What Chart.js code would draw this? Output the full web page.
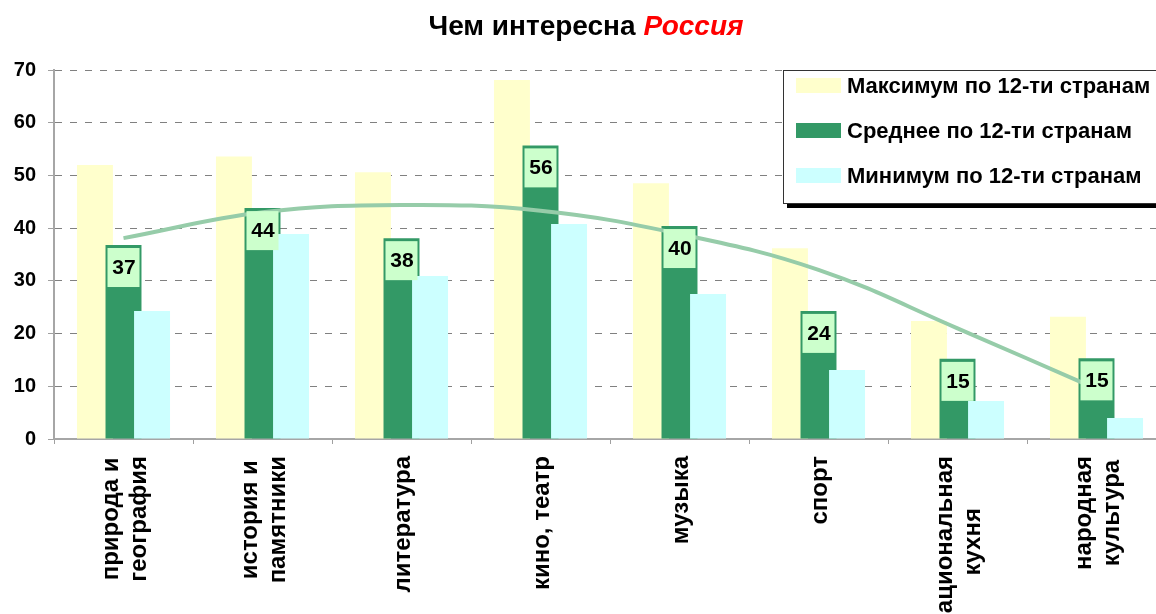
<!DOCTYPE html>
<html>
<head>
<meta charset="utf-8">
<script src="https://cdn.jsdelivr.net/npm/chart.js@4/dist/chart.umd.min.js"></script>
<style>
    html, body { margin: 0; padding: 0; background: #fff; overflow: hidden; }
    #wrap { position: relative; width: 1156px; height: 614px; overflow: hidden; font-family: Arial, 'Liberation Sans', sans-serif; }
    #chart { position: absolute; left: 0; top: 0; }
    #title { position: absolute; left: 0; top: 11px; width: 1172px; text-align: center; font-size: 28px; font-weight: bold; line-height: 30px; color: #000; }
    #title span { color: #ff0000; font-style: italic; }
    #legend { position: absolute; left: 783px; top: 70px; width: 420px; height: 132px; border: 1px solid #333; background: #fff; box-shadow: 4px 4px 0 #000; }
    .row { position: absolute; left: 0; height: 24px; font-size: 22px; font-weight: bold; line-height: 24px; white-space: nowrap; color: #000; }
    .sw { position: absolute; left: 12px; top: 4px; width: 45px; height: 15px; }
    .tx { position: absolute; left: 63px; top: 0; }
</style>
</head>
<body>
<div id="wrap">
    <canvas id="chart" width="1166" height="614"></canvas>
    <div id="title">Чем интересна <span>Россия</span></div>
    <div id="legend"></div>
</div>
<script>
// Categories (two-line labels as arrays)
const categories = [
    ['природа и', 'география'],
    ['история и', 'памятники'],
    ['литература'],
    ['кино, театр'],
    ['музыка'],
    ['спорт'],
    ['национальная', 'кухня'],
    ['народная', 'культура']
];

const seriesNames = ['Максимум по 12-ти странам', 'Среднее по 12-ти странам', 'Минимум по 12-ти странам'];
const seriesColors = ['#ffffcc', '#339966', '#ccffff'];

const maxValues = [52.0, 53.6, 50.6, 68.1, 48.5, 36.2, 22.4, 23.2];
const avgValues = [36.8, 43.8, 38.1, 55.7, 40.4, 24.3, 15.2, 15.3];
const minValues = [24.3, 38.9, 30.9, 40.8, 27.5, 13.1, 7.2, 4.0];
// trend line of the average
const trendValues = [38.1, 43.0, 44.4, 43.3, 38.9, 32.1, 21.0, 9.5];

const yTicks = [0, 10, 20, 30, 40, 50, 60, 70];

const FONT = 'Arial, "Liberation Sans", sans-serif';

// Legend box
const legendEl = document.getElementById('legend');
seriesNames.forEach((name, i) => {
    const row = document.createElement('div');
    row.className = 'row';
    row.style.top = (3 + i * 45) + 'px';
    const sw = document.createElement('div');
    sw.className = 'sw';
    sw.style.background = seriesColors[i];
    const tx = document.createElement('div');
    tx.className = 'tx';
    tx.textContent = name;
    row.appendChild(sw);
    row.appendChild(tx);
    legendEl.appendChild(row);
});

// Draw datasets in sorted order (back to front), so later bars overlap earlier ones
const drawOrderPlugin = {
    id: 'drawOrder',
    beforeDatasetsDraw(chart) {
        const ctx = chart.ctx;
        const area = chart.chartArea;
        ctx.save();
        ctx.beginPath();
        ctx.rect(area.left, area.top - 5, area.right - area.left, area.bottom - area.top + 5);
        ctx.clip();
        chart.getSortedVisibleDatasetMetas().forEach(meta => meta.controller.draw());
        ctx.restore();
        return false;
    }
};

// Value boxes on the average bars and the rotated category labels
const labelsPlugin = {
    id: 'labels',
    afterDraw(chart) {
        const ctx = chart.ctx;
        const meta = chart.getDatasetMeta(1);
        ctx.save();
        ctx.font = 'bold 21px ' + FONT;
        ctx.textAlign = 'center';
        ctx.textBaseline = 'middle';
        meta.data.forEach((bar, i) => {
            const top = bar.y + 3;
            ctx.fillStyle = '#ccffcc';
            ctx.fillRect(bar.x - 16, top, 32, 39);
            ctx.fillStyle = '#000';
            ctx.fillText(String(Math.round(avgValues[i])), bar.x + 0.5, top + 20);
        });

        // category labels, rotated, lines centred on each other
        const xScale = chart.scales.x;
        const startY = xScale.top + 17;
        ctx.font = 'bold 24px ' + FONT;
        categories.forEach((lines, i) => {
            const cx = xScale.getPixelForValue(i) + 1.5;
            const w = Math.max(...lines.map(l => ctx.measureText(l).width));
            ctx.save();
            ctx.translate(cx, startY);
            ctx.rotate(-Math.PI / 2);
            lines.forEach((line, j) => {
                const off = (j - (lines.length - 1) / 2) * 28;
                ctx.fillText(line, -w / 2, off);
            });
            ctx.restore();
        });
        ctx.restore();
    }
};

new Chart(document.getElementById('chart').getContext('2d'), {
    type: 'bar',
    data: {
        labels: categories.map(c => c.join(' ')),
        datasets: [{
            label: seriesNames[0],
            data: maxValues,
            backgroundColor: seriesColors[0],
            order: 1
        }, {
            label: seriesNames[1],
            data: avgValues,
            backgroundColor: seriesColors[1],
            order: 2
        }, {
            label: seriesNames[2],
            data: minValues,
            backgroundColor: seriesColors[2],
            order: 3
        }, {
            type: 'line',
            label: 'trend',
            data: trendValues,
            borderColor: '#96cca9',
            borderWidth: 4,
            pointRadius: 0,
            tension: 0.4,
            fill: false,
            order: 10
        }]
    },
    options: {
        responsive: false,
        animation: false,
        categoryPercentage: 0.616,
        barPercentage: 1.26,
        layout: { padding: { top: 70, left: 0, right: 0, bottom: 0 } },
        plugins: {
            legend: { display: false },
            title: { display: false },
            tooltip: { enabled: false }
        },
        scales: {
            x: {
                offset: true,
                grid: {
                    display: true,
                    drawOnChartArea: false,
                    drawTicks: true,
                    tickLength: 5,
                    color: '#a0a0a0'
                },
                border: { display: true, color: '#a6a6a6', width: 2 },
                ticks: { display: false },
                afterFit: function(scale) { scale.height = 175; }
            },
            y: {
                min: yTicks[0],
                max: yTicks[yTicks.length - 1],
                afterBuildTicks: function(scale) {
                    scale.ticks = yTicks.map(v => ({ value: v }));
                },
                grid: {
                    color: '#808080',
                    tickLength: 6,
                    tickColor: '#a0a0a0',
                    tickBorderDash: []
                },
                border: { display: true, color: '#a6a6a6', width: 2, dash: [7, 8] },
                ticks: {
                    color: '#000',
                    padding: 12,
                    font: { family: FONT, size: 20, weight: 'bold' }
                },
                afterFit: function(scale) { scale.width = 54; }
            }
        }
    },
    plugins: [drawOrderPlugin, labelsPlugin]
});
</script>
</body>
</html>
